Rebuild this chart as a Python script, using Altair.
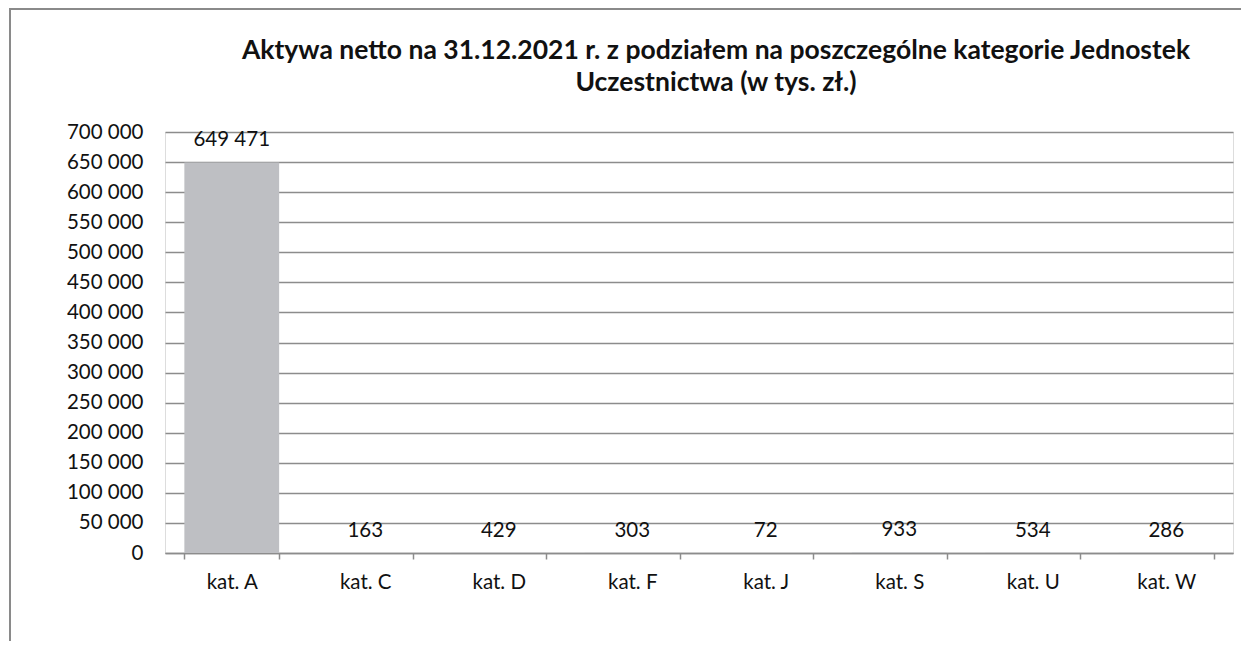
import altair as alt
import pandas as pd

categories = ["kat. A", "kat. C", "kat. D", "kat. F", "kat. J", "kat. S", "kat. U", "kat. W"]
values = [649471, 163, 429, 303, 72, 933, 534, 286]
labels = [f"{v:,}".replace(",", " ") for v in values]
title_lines = ["Aktywa netto na 31.12.2021 r. z podziałem na poszczególne kategorie Jednostek",
               "Uczestnictwa (w tys. zł.)"]

df = pd.DataFrame({"kat": categories, "val": values, "lab": labels})

FONT = "Lato"
GRID = "#8c8c8c"

x = alt.X("kat:N", sort=categories, title=None,
          scale=alt.Scale(paddingInner=0.29, paddingOuter=0.145),
          axis=alt.Axis(labelAngle=0, labelFont=FONT, labelFontSize=20.5, labelColor="#111",
                        domainColor=GRID, domainWidth=1.5, tickColor=GRID, tickWidth=1.5,
                        tickSize=6, tickBand="extent", labelPadding=13, grid=False))
y = alt.Y("val:Q", title=None,
          scale=alt.Scale(domain=[0, 700000], nice=False),
          axis=alt.Axis(values=list(range(0, 700001, 50000)),
                        labelExpr="replace(format(datum.value, ',d'), ',', ' ')",
                        labelFont=FONT, labelFontSize=20.5, labelColor="#111", labelOverlap=False,
                        labelPadding=22, ticks=False, domain=False,
                        grid=True, gridColor=GRID, gridWidth=1.5))

bars = alt.Chart(df).mark_bar(color="#bebfc3").encode(x=x, y=y)
text = alt.Chart(df).mark_text(font=FONT, fontSize=20.5, color="#111", baseline="alphabetic", dy=-16).encode(
    x=x, y=y, text="lab:N")

frame_top = alt.Chart(df).mark_rule(stroke="#8a8a8a", strokeWidth=2).encode(
    x=alt.value(-155), x2=alt.value(1200), y=alt.value(-123))
frame_left = alt.Chart(df).mark_rule(stroke="#8a8a8a", strokeWidth=2).encode(
    x=alt.value(-155), y=alt.value(-124), y2=alt.value(600))

chart = alt.layer(frame_top, frame_left, bars, text).properties(
    width=1068, height=421,
    title=alt.TitleParams(text=title_lines, font=FONT, fontSize=26.5, fontWeight="bold",
                          color="#111", anchor="middle", dx=17, offset=0, dy=89, lineHeight=32),
    autosize=alt.AutoSizeParams(type="none"),
    padding={"left": 157, "top": 124, "right": 8, "bottom": 88},
).configure_view(stroke="transparent", strokeWidth=0).configure(background="white")

chart.save("out.html", embed_options={"renderer": "svg", "actions": False})
